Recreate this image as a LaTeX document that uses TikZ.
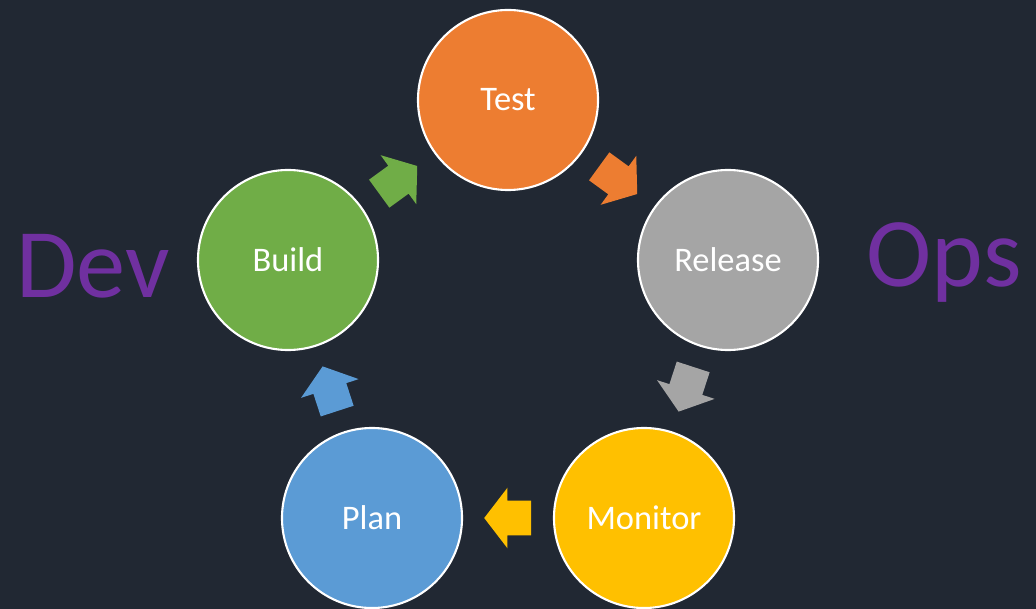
\documentclass[tikz,border=0pt]{standalone}
\usepackage{fontspec}
\setmainfont{Carlito}
\usetikzlibrary{shapes.arrows,calc}
\definecolor{bgdark}{HTML}{212833}
\definecolor{testc}{HTML}{ED7D31}
\definecolor{releasec}{HTML}{A5A5A5}
\definecolor{monitorc}{HTML}{FFC000}
\definecolor{planc}{HTML}{5B9BD5}
\definecolor{buildc}{HTML}{70AD47}
\definecolor{devopsc}{HTML}{7030A0}
\begin{document}
\begin{tikzpicture}[x=0.025cm,y=-0.025cm,
        stage/.style={circle,draw=white,line width=1.5pt,minimum size=4.5cm,inner sep=0pt,
            text=white,font=\fontsize{24.5}{29}\selectfont},
        flow/.style={single arrow,draw=none,minimum height=1.175cm,minimum width=0pt,
            inner xsep=0pt,inner ysep=0.425cm,single arrow head extend=0.325cm,
            single arrow tip angle=105,single arrow head indent=0pt,anchor=tail},
        side/.style={text=devopsc,font=\fontsize{70}{82}\selectfont,anchor=base}]
        \fill[bgdark] (0,0) rectangle (1036,609);
        \useasboundingbox (0,0) rectangle (1036,609);

        \node[stage,fill=testc] (test) at (508,100) {Test};
        \node[stage,fill=releasec] (release) at (728,260) {Release};
        \node[stage,fill=monitorc] (monitor) at (644,518) {Monitor};
        \node[stage,fill=planc] (plan) at (372,518) {Plan};
        \node[stage,fill=buildc] (build) at (288,260) {Build};

        \node[side] (dev) at (93,298) {Dev};
        \node[side] (ops) at (944,287) {Ops};

        \foreach \a/\b/\c in {build/test/buildc,test/release/testc,release/monitor/releasec,
                monitor/plan/monitorc,plan/build/planc}
            \path let \p1=($(\b)-(\a)$), \n1={atan2(\y1,\x1)} in
                node[flow,fill=\c,rotate=\n1] (\a-\b) at ($(\a)!0.5!(\b)!0.5875cm!(\a)$) {};
    \end{tikzpicture}
\end{document}
